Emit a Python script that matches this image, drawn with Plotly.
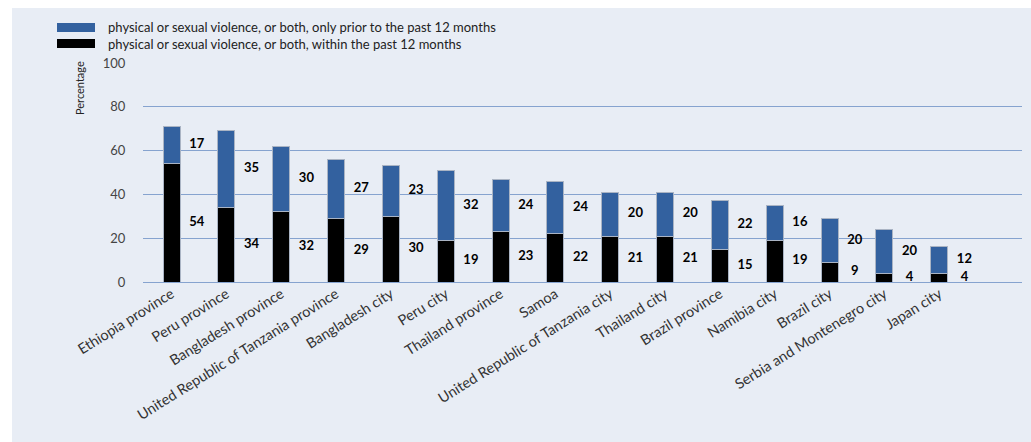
import plotly.graph_objects as go

categories = [
    "Ethiopia province", "Peru province", "Bangladesh province",
    "United Republic of Tanzania province", "Bangladesh city", "Peru city",
    "Thailand province", "Samoa", "United Republic of Tanzania city",
    "Thailand city", "Brazil province", "Namibia city", "Brazil city",
    "Serbia and Montenegro city", "Japan city",
]
within_12m = [54, 34, 32, 29, 30, 19, 23, 22, 21, 21, 15, 19, 9, 4, 4]
prior_only = [17, 35, 30, 27, 23, 32, 24, 24, 20, 20, 22, 16, 20, 20, 12]

name_prior = "physical or sexual violence, or both, only prior to the past 12 months"
name_within = "physical or sexual violence, or both, within the past 12 months"

ytick_vals = [0, 20, 40, 60, 80, 100]

BLUE = "#33619f"
BLACK = "#000000"
PANEL = "#e8edf5"
GRID = "#86a3cf"
FONT = "Lato"

W, H = 1031, 442
ml, mt = 143, 63
mr = W - 1022
mb = H - 282

x = list(range(len(categories)))
fig = go.Figure()
fig.add_bar(x=x, y=within_12m, name=name_within, width=0.31,
            marker=dict(color=BLACK, line=dict(color="#aab4c4", width=1)))
fig.add_bar(x=x, y=prior_only, name=name_prior, width=0.31,
            marker=dict(color=BLUE, line=dict(color="#aab4c4", width=1)))

# value labels to the right of each segment
off = 0.46
lab_font = dict(family=FONT, size=13, color="black", weight="bold")
fig.add_scatter(x=[i + off for i in x], y=[v / 2 for v in within_12m],
                mode="text", text=[str(v) for v in within_12m],
                textfont=lab_font, hoverinfo="skip", showlegend=False)
fig.add_scatter(x=[i + off for i in x],
                y=[b + p / 2 for b, p in zip(within_12m, prior_only)],
                mode="text", text=[str(v) for v in prior_only],
                textfont=lab_font, hoverinfo="skip", showlegend=False)

pw = W - ml - mr
ph = H - mt - mb
def px(xp):
    return (xp - ml) / pw
def py(yp):
    return (H - mb - yp) / ph

shapes = [
    dict(type="rect", xref="paper", yref="paper", layer="below",
         x0=px(12), x1=px(W + 10), y0=py(H + 10), y1=py(8),
         fillcolor=PANEL, line=dict(width=0)),
    # legend swatches
    dict(type="rect", xref="paper", yref="paper",
         x0=px(57), x1=px(95), y0=py(32), y1=py(23),
         fillcolor=BLUE, line=dict(width=0)),
    dict(type="rect", xref="paper", yref="paper",
         x0=px(57), x1=px(95), y0=py(48), y1=py(39),
         fillcolor=BLACK, line=dict(width=0)),
]
annotations = [
    dict(xref="paper", yref="paper", x=px(106), y=py(27), xanchor="left",
         yanchor="middle", text=name_prior, showarrow=False,
         font=dict(family=FONT, size=13, color="#222")),
    dict(xref="paper", yref="paper", x=px(106), y=py(44), xanchor="left",
         yanchor="middle", text=name_within, showarrow=False,
         font=dict(family=FONT, size=13, color="#222")),
    dict(xref="paper", yref="paper", x=px(79), y=py(88), xanchor="center",
         yanchor="middle", text="Percentage", textangle=-90, showarrow=False,
         font=dict(family=FONT, size=11, color="#222")),
]

fig.update_layout(
    width=W, height=H, barmode="stack", showlegend=False,
    margin=dict(l=ml, r=mr, t=mt, b=mb, autoexpand=False),
    paper_bgcolor="white", plot_bgcolor=PANEL,
    shapes=shapes, annotations=annotations,
    font=dict(family=FONT, size=13, color="#333"),
    xaxis=dict(range=[-0.52, 15.51], tickvals=x, ticktext=categories,
               tickangle=-32, showgrid=False, zeroline=False,
               ticks="", showline=False,
               tickfont=dict(family=FONT, size=14.5, color="#333")),
    yaxis=dict(range=[0, 100], tickvals=ytick_vals, showgrid=True,
               gridcolor=GRID, gridwidth=1, zeroline=True,
               zerolinecolor=GRID, zerolinewidth=1,
               ticks="outside", ticklen=14, tickcolor="rgba(0,0,0,0)",
               tickfont=dict(family=FONT, size=13, color="#444")),
)

fig.write_html("out.html",
               config={"displayModeBar": False},
               post_script="document.body.style.margin='0';"
                           "document.body.style.overflow='hidden';")
